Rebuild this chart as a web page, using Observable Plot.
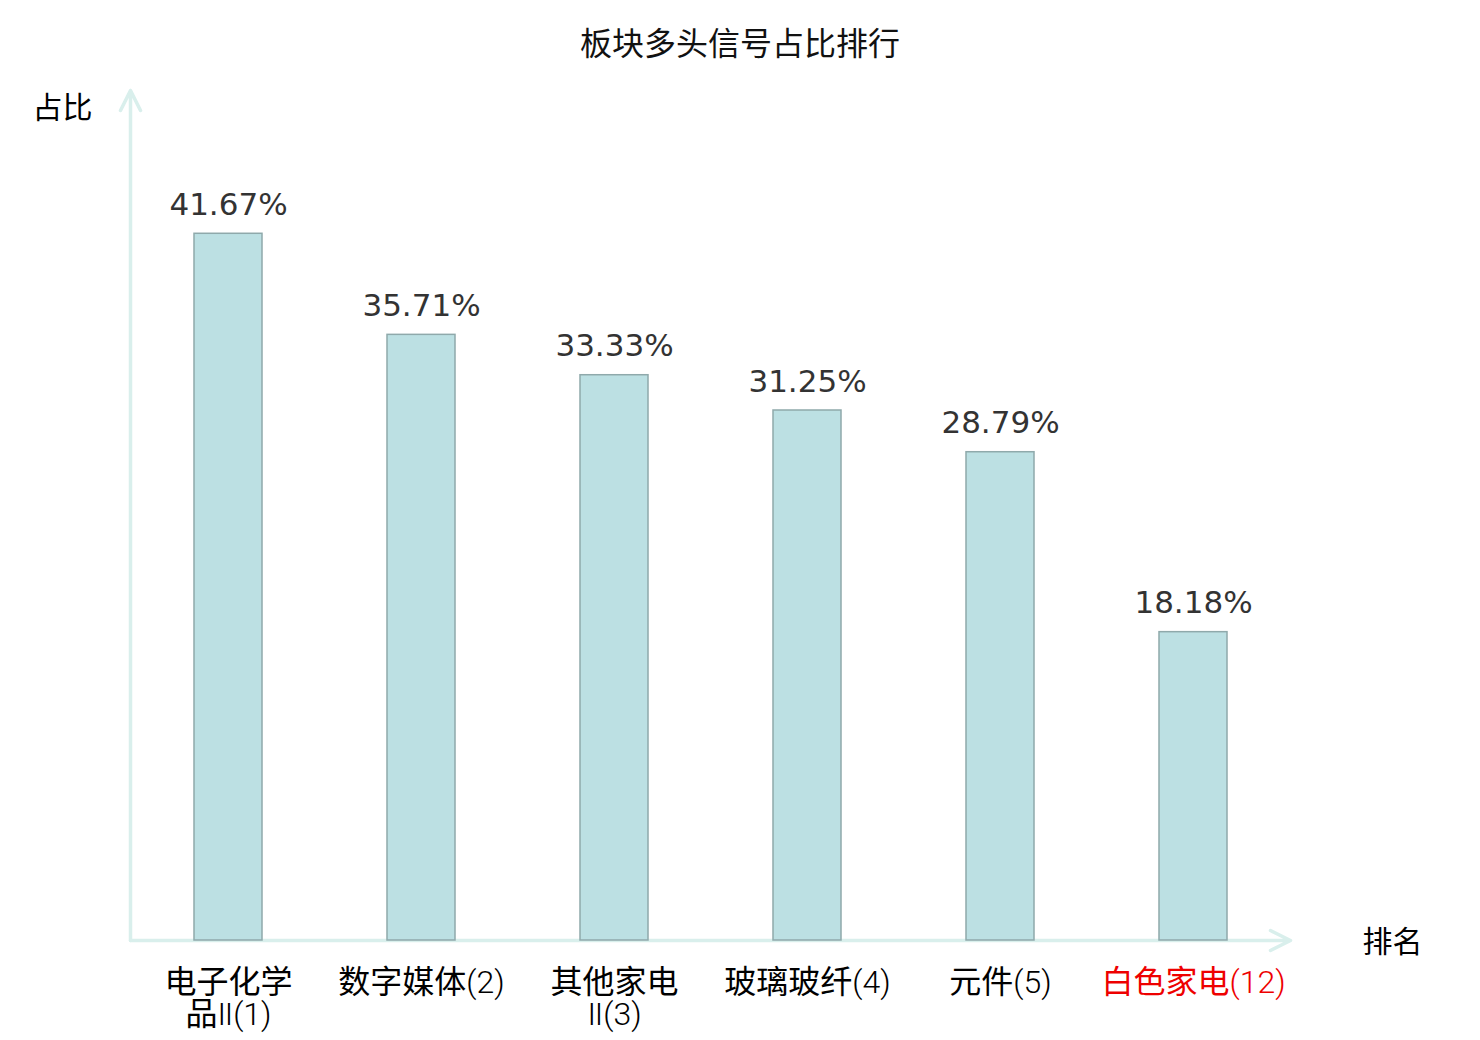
<!DOCTYPE html>
<html>
<head>
<meta charset="utf-8">
<script src="https://cdn.jsdelivr.net/npm/d3@7"></script>
<script src="https://cdn.jsdelivr.net/npm/@observablehq/plot@0.6"></script>
<style>
  html, body { margin: 0; padding: 0; background: #fff; }
  #title { height: 82px; display: flex; align-items: center; justify-content: center;
    font-family: "Noto Sans CJK SC", sans-serif; font-size: 32px; color: #111; width: 1480px; }
  #chart { width: 1480px; }
</style>
</head>
<body>
<div id="title">板块多头信号占比排行</div>
<div id="chart"></div>
<script>
const categories = ["电子化学品Ⅱ(1)", "数字媒体(2)", "其他家电Ⅱ(3)", "玻璃玻纤(4)", "元件(5)", "白色家电(12)"];
const tickLabels = ["电子化学\n品Ⅱ(1)", "数字媒体(2)", "其他家电\nⅡ(3)", "玻璃玻纤(4)", "元件(5)", "白色家电(12)"];
const values = [41.67, 35.71, 33.33, 31.25, 28.79, 18.18];
const highlighted = ["白色家电(12)"];
const yAxisName = "占比";
const xAxisName = "排名";

const data = categories.map((c, i) => ({name: c, value: values[i]}));
const labelOf = d => tickLabels[categories.indexOf(d)];

const axisColor = "#d9efec";
const arrowShape = {
  draw(context, l) {
    context.moveTo(0, 0);
    context.lineTo(0, -l);
    context.moveTo(-10, 20 - l);
    context.lineTo(0, -l);
    context.lineTo(10, 20 - l);
  }
};

const cjk = "'Noto Sans CJK SC', sans-serif";
const tickFont = "'Roboto Light', 'Lato Light', 'DejaVu Sans ExtraLight', 'Noto Sans CJK SC', sans-serif";

const chart = Plot.plot({
  width: 1480,
  height: 958,
  marginLeft: 130,
  marginRight: 190,
  marginTop: 10,
  marginBottom: 100,
  style: {fontFamily: "'DejaVu Sans', " + cjk, background: "#fff"},
  x: {domain: categories, paddingInner: 0.65, paddingOuter: 0.325},
  y: {domain: [0, 50], axis: null},
  marks: [
    Plot.vector([0], {frameAnchor: "bottom-left", length: 850, rotate: 0, anchor: "start",
      shape: arrowShape, stroke: axisColor, strokeWidth: 3.5}),
    Plot.vector([0], {frameAnchor: "bottom-left", length: 1160, rotate: 90, anchor: "start",
      shape: arrowShape, stroke: axisColor, strokeWidth: 3.5}),
    Plot.barY(data, {x: "name", y: "value", fill: "#bce0e3", stroke: "#8fa9ab", strokeWidth: 1.5}),
    Plot.text(data, {x: "name", y: "value", text: d => d.value.toFixed(2) + "%",
      lineAnchor: "bottom", dy: -19, fontSize: 31, fill: "#333"}),
    Plot.axisX({ticks: categories.filter(c => !highlighted.includes(c)), tickSize: 0, tickPadding: 30,
      tickFormat: labelOf, fontSize: 32, lineHeight: 1.0, fill: "#000", fontFamily: tickFont,
      label: null}),
    Plot.axisX({ticks: highlighted, tickSize: 0, tickPadding: 30,
      tickFormat: labelOf, fontSize: 32, lineHeight: 1.0, fill: "#e00", fontFamily: tickFont,
      label: null}),
    Plot.text([yAxisName], {frameAnchor: "top-left", text: d => d, dx: -38, dy: 16,
      textAnchor: "end", lineAnchor: "middle", fontSize: 30, fill: "#000", fontFamily: cjk}),
    Plot.text([xAxisName], {frameAnchor: "bottom-right", text: d => d, dx: 72, dy: 2,
      textAnchor: "start", lineAnchor: "middle", fontSize: 30, fill: "#000", fontFamily: cjk})
  ]
});
document.getElementById("chart").append(chart);
</script>
</body>
</html>
